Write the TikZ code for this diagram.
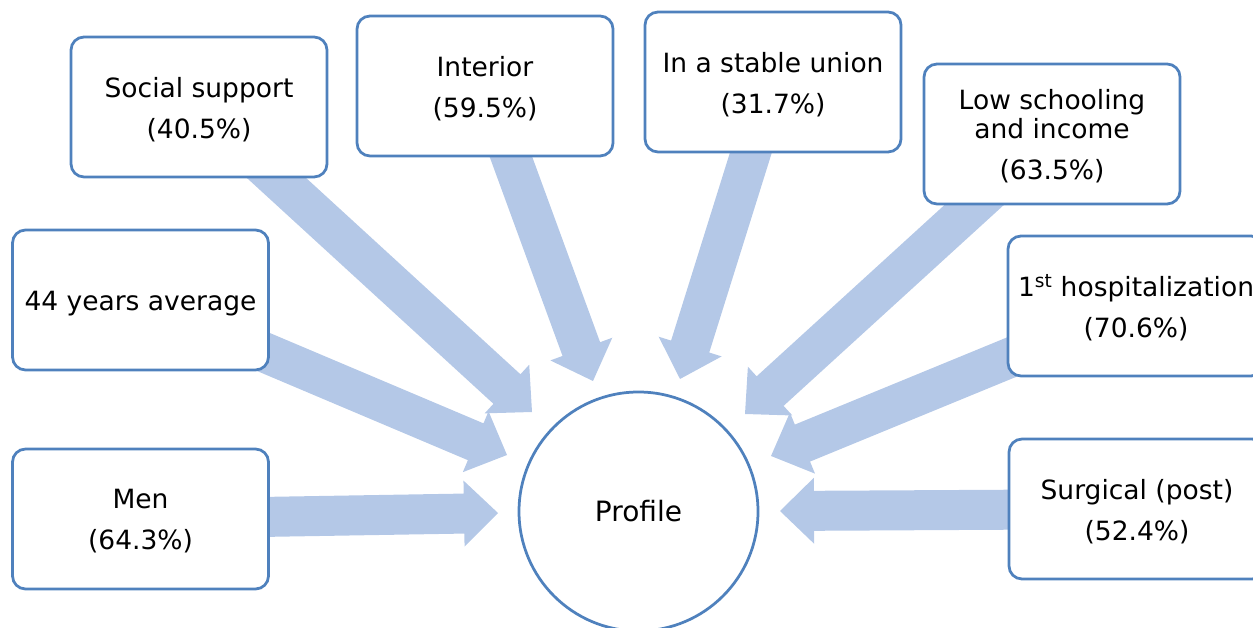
\documentclass[tikz,border=0pt]{standalone}
\usepackage{fontspec}
\setmainfont{DejaVu Sans}
\usetikzlibrary{calc,backgrounds}
\definecolor{boxblue}{HTML}{4F81BD}
\definecolor{arrowblue}{HTML}{B4C8E7}
\tikzset{
  box/.style={draw=boxblue, line width=2.75pt, fill=white, rounded corners=13pt,
    minimum width=256pt, minimum height=140pt, inner sep=0pt},
  txt/.style={align=center, inner sep=0pt, font=\fontsize{26.5}{41}\selectfont},
  hub/.style={circle, draw=boxblue, line width=2.75pt, fill=white, minimum size=239pt,
    inner sep=0pt, font=\fontsize{28}{34}\selectfont},
  blockfill/.style={fill=arrowblue}
}
\newcommand\blockarrow[2]{%
  \coordinate (ba-h) at ($(#2)!34pt!(#1)$);
  \fill[blockfill] ($(#1)!20pt!90:(#2)$) -- ($(ba-h)!20pt!90:(#2)$)
    -- ($(ba-h)!33pt!90:(#2)$) -- (#2) -- ($(ba-h)!33pt!-90:(#2)$)
    -- ($(ba-h)!20pt!-90:(#2)$) -- ($(#1)!20pt!-90:(#2)$) -- cycle;}
\begin{document}
\begin{tikzpicture}[x=1pt,y=-1pt]
\useasboundingbox (0,0) rectangle (1253,628);
\node[box] (soc) at (199,107) {};
\node[box] (int) at (485,86) {};
\node[box] (uni) at (773,82) {};
\node[box] (low) at (1052,134) {};
\node[box] (age) at (140.5,300) {};
\node[box] (men) at (140.5,519) {};
\node[box] (hos) at (1136,306) {};
\node[box] (sur) at (1137,509) {};
\node[txt] (soc-t) at ([yshift=-2.5pt]soc.center) {Social support\\(40.5\%)};
\node[txt] (int-t) at ([yshift=-2.5pt]int.center) {Interior\\(59.5\%)};
\node[txt] (uni-t) at ([yshift=-2.5pt]uni.center) {In a stable union\\(31.7\%)};
\node[txt] (low-t) at ([yshift=-2.5pt]low.center) {Low schooling\\[-12pt]and income\\(63.5\%)};
\node[txt] (age-t) at ([yshift=-3.5pt]age.center) {44 years average};
\node[txt] (men-t) at ([yshift=-2.5pt]men.center) {Men\\(64.3\%)};
\node[txt] (hos-t) at ([yshift=-2pt]hos.center) {1\textsuperscript{st} hospitalization\\(70.6\%)};
\node[txt] (sur-t) at ([yshift=-2.5pt]sur.center) {Surgical (post)\\(52.4\%)};
\node[hub] (pro) at (638.5,511.5) {Profile};
\coordinate (t-soc) at (532,412);
\coordinate (t-age) at (507,455);
\coordinate (t-men) at (498,513);
\coordinate (t-int) at (593,381);
\coordinate (t-uni) at (680,379);
\coordinate (t-low) at (745,414);
\coordinate (t-hos) at (771,456);
\coordinate (t-sur) at (780,511);
\begin{scope}[on background layer]
\blockarrow{age.center}{t-age}
\blockarrow{soc.center}{t-soc}
\blockarrow{men.center}{t-men}
\blockarrow{int.center}{t-int}
\blockarrow{uni.center}{t-uni}
\blockarrow{hos.center}{t-hos}
\blockarrow{low.center}{t-low}
\blockarrow{sur.center}{t-sur}
\end{scope}
\end{tikzpicture}
\end{document}
